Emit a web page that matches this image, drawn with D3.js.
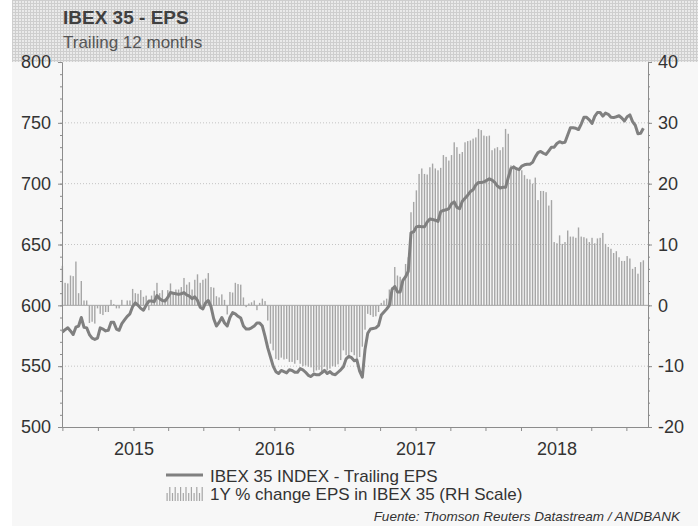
<!DOCTYPE html>
<html>
<head>
<meta charset="utf-8">
<script src="https://cdn.jsdelivr.net/npm/d3@7"></script>
<style>
    body { margin: 0; background: #fff; }
    svg { display: block; font-family: "Liberation Sans", Arial, sans-serif; }
</style>
</head>
<body>
<svg id="chart" width="698" height="526"></svg>
<script>
// weekly observations, first one on 2014-07-01
const firstWeek = new Date(Date.UTC(2014, 6, 1));

// IBEX 35 trailing EPS (left scale)
const epsLevel = [
    578, 580, 581.5, 579, 576, 582, 583, 590, 582, 581.5,
    576, 573, 572, 573, 581.5, 580.5, 579, 579.5, 586, 586,
    580.5, 579.5, 585, 588, 591, 593, 599, 602, 600, 597.5,
    596, 600, 603.5, 603.5, 603, 608, 605.5, 604, 603.5, 606.5,
    610.5, 610, 609.5, 609, 609.5, 610.5, 608.5, 607.5, 605.5, 607,
    604, 598.5, 597, 602, 604, 599, 589, 583, 586, 590,
    585.5, 583, 590, 594, 593, 591, 589.5, 583, 580.5, 580.5,
    581.5, 583, 585.5, 585.5, 583, 574.5, 565, 557.5, 550, 545.5,
    544, 546.5, 545.5, 544.5, 547, 546.5, 545, 545, 548, 547,
    545, 542.5, 541.5, 543.5, 543, 543, 544.5, 546.5, 544, 545.5,
    543.5, 543, 545, 547, 549.5, 556, 558, 557, 554.5, 555,
    546, 541, 564, 577, 580.5, 581, 581.5, 583.5, 592, 594.5,
    597, 600, 613, 615.5, 611, 611, 620.5, 623.5, 628, 659.5,
    660.5, 664.5, 665, 664.5, 664.5, 668.5, 671, 670.5, 670, 669,
    677, 678, 678.5, 679.5, 683.5, 685, 680.5, 679.5, 685.5, 688,
    690.5, 693.5, 695, 699, 701, 701, 701.5, 702.7, 704, 703,
    701, 698, 696.5, 697, 697, 705, 712.5, 713.7, 712.3, 711.5,
    714.5, 715.5, 716, 716, 717.5, 722, 725.5, 726.5, 725, 724,
    727, 730, 730, 733, 734.5, 733.5, 734, 740, 746, 746,
    745.5, 744.5, 749, 754.5, 754.5, 752.5, 749.5, 755.3, 758.5, 758.5,
    755.5, 758, 757, 754.5, 754.3, 755, 755.8, 754, 751.5, 755,
    756.5, 751, 748, 741, 741.5, 745.5
];

// 1Y % change of EPS (right scale)
const epsChange = [
    6.5, 3.7, 3.6, 4.9, 4.8, 7.2, 2.0, 4.0, 0.8, 0.8,
    -2.9, -2.7, -3.0, -0.5, -1.4, -1.6, -1.1, -1.1, 0.9, 0.2,
    -0.5, -0.5, 0.9, 0.0, 0.8, 0.8, 2.7, 2.0, 1.9, 2.5,
    1.4, 1.6, -0.8, 1.6, 2.4, 3.7, 2.0, 2.5, 1.1, 2.5,
    3.6, 2.2, 2.6, 2.6, 3.0, 4.5, 3.4, 3.8, 2.6, 4.2,
    5.1, 3.7, 4.2, 4.4, 5.3, 3.0,
    2.9, 1.5, 1.3, 1.8, 0.9, -1.5, 2.2, 2.1, 3.7, 3.5,
    3.4, 1.3, -0.3, 0.3, 0.5, 0.8, -0.8, 0.4, 1.1, 0.7,
    -2.5, -6.3, -7.4, -8.8, -9.0, -8.6, -8.9, -8.8, -9.3, -9.3,
    -9.6, -9.0, -9.6, -10.0, -9.9, -10.1, -10.2, -11.0, -10.7, -10.6,
    -11.0, -10.1, -10.7, -10.4, -10.0, -10.1, -9.7, -9.0, -7.4, -8.2,
    -8.5, -7.7, -8.2, -9.0, -8.5, -6.8, -4.0, -1.4, -1.6, -1.9,
    -1.8, -1.1, 0.4,
    0.8, 1.1, 2.6, 3.0, 6.3, 4.9, 4.7, 3.8, 6.8, 7.9,
    15.3, 17.0, 18.9, 21.6, 22.5, 21.6, 21.5, 22.7, 23.3, 22.5,
    22.2, 22.6, 24.7, 24.4, 23.8, 24.7, 26.8, 26.0, 24.9, 25.2,
    26.8, 27.0, 27.1, 27.4, 27.6, 29.0, 28.8, 27.9, 27.8, 27.9,
    25.5, 25.8, 26.0, 25.5, 26.0, 29.0, 28.2, 23.0, 23.0, 22.5,
    22.5, 22.2, 21.4, 20.8, 20.7, 20.0, 21.0, 17.3, 18.8, 18.8,
    18.6, 16.4, 17.3, 10.4, 10.2, 11.5, 10.1, 10.4, 12.3, 11.3,
    11.3, 11.1, 12.8, 11.3, 11.2, 11.0, 10.4, 11.1, 10.2, 11.0,
    11.1, 11.9, 10.1, 9.6, 9.3, 8.6, 8.9, 7.9, 7.3, 7.3,
    8.1, 7.7, 6.0, 6.3, 5.2, 7.1, 7.4
];

const leftTicks = [500, 550, 600, 650, 700, 750, 800];
const rightTicks = [-20, -10, 0, 10, 20, 30, 40];
const gridLevels = [550, 650, 700, 750];
const titleText = 'IBEX 35 - EPS';
const subtitleText = 'Trailing 12 months';
const legendLabels = ['IBEX 35 INDEX - Trailing EPS', '1Y % change EPS in IBEX 35 (RH Scale)'];
const sourceText = 'Fuente: Thomson Reuters Datastream / ANDBANK';

const lineColor = '#808080';
const barColor = '#a6a6a6';
const axisColor = '#8c8c8c';
const textColor = '#333';

const svg = d3.select('#chart');
const plot = {left: 62, right: 648, top: 62, bottom: 427};

const dates = epsLevel.map((_, i) => d3.utcDay.offset(firstWeek, 7 * i));
const levelData = epsLevel.map((v, i) => ({date: dates[i], v}));
const changeData = epsChange.map((v, i) => ({date: dates[i], v}));

const x = d3.scaleUtc()
    .domain([new Date(Date.UTC(2014, 5, 30)), new Date(Date.UTC(2018, 7, 26))])
    .range([plot.left, plot.right]);
const yL = d3.scaleLinear().domain([500, 800]).range([plot.bottom, plot.top]);
const yR = d3.scaleLinear().domain([-20, 40]).range([plot.bottom, plot.top]);

// background: white strip, hatched header, light panel
const defs = svg.append('defs');
const pat = defs.append('pattern')
    .attr('id', 'hatch')
    .attr('patternUnits', 'userSpaceOnUse')
    .attr('width', 3).attr('height', 3);
pat.append('rect').attr('width', 3).attr('height', 3).attr('fill', '#eaeaea');
pat.append('rect').attr('width', 3).attr('height', 1).attr('fill', '#cecece');
pat.append('rect').attr('width', 1).attr('height', 3).attr('fill', '#cecece');

svg.append('rect').attr('width', 698).attr('height', 526).attr('fill', '#fff');
svg.append('rect').attr('x', 12).attr('y', 0).attr('width', 686).attr('height', 62)
    .attr('fill', 'url(#hatch)');
svg.append('rect').attr('x', 12).attr('y', 62).attr('width', 686).attr('height', 464)
    .attr('fill', '#f7f7f7');

svg.append('text')
    .attr('x', 63).attr('y', 24)
    .attr('font-size', 19).attr('font-weight', 'bold')
    .attr('fill', '#404040')
    .text(titleText);
svg.append('text')
    .attr('x', 63).attr('y', 48)
    .attr('font-size', 17)
    .attr('fill', '#555')
    .text(subtitleText);

// dotted grid
svg.append('g')
    .selectAll('line')
    .data(gridLevels)
    .enter().append('line')
    .attr('x1', plot.left).attr('x2', plot.right)
    .attr('y1', d => yL(d)).attr('y2', d => yL(d))
    .attr('stroke', '#c4c4c4')
    .attr('stroke-dasharray', '1,2');

// bars
svg.append('g')
    .selectAll('rect')
    .data(changeData)
    .enter().append('rect')
    .attr('x', d => x(d.date) - 0.7)
    .attr('width', 1.4)
    .attr('y', d => Math.min(yR(d.v), yR(0)))
    .attr('height', d => Math.abs(yR(d.v) - yR(0)))
    .attr('fill', barColor);

svg.append('line')
    .attr('x1', plot.left).attr('x2', plot.right)
    .attr('y1', yR(0)).attr('y2', yR(0))
    .attr('stroke', barColor);

// line
const line = d3.line()
    .x(d => x(d.date))
    .y(d => yL(d.v));

svg.append('path')
    .datum(levelData)
    .attr('fill', 'none')
    .attr('stroke', lineColor)
    .attr('stroke-width', 3)
    .attr('stroke-linejoin', 'round')
    .attr('d', line);

// axes
function styleAxis(g) {
    g.select('.domain').attr('stroke', axisColor);
    g.selectAll('.tick line').attr('stroke', axisColor);
    g.selectAll('.tick text')
        .attr('fill', textColor)
        .attr('font-size', 18)
        .attr('font-family', '"Liberation Sans", Arial, sans-serif');
}

svg.append('g')
    .attr('transform', `translate(${plot.left},0)`)
    .call(d3.axisLeft(yL).tickValues(d3.range(500, 801, 10)).tickSize(2).tickSizeOuter(0).tickFormat(''))
    .call(styleAxis);
svg.append('g')
    .attr('transform', `translate(${plot.left},0)`)
    .call(d3.axisLeft(yL).tickValues(leftTicks).tickSize(4).tickSizeOuter(0).tickPadding(7))
    .call(styleAxis);

svg.append('g')
    .attr('transform', `translate(${plot.right},0)`)
    .call(d3.axisRight(yR).tickValues(d3.range(-20, 41, 2)).tickSize(2).tickSizeOuter(0).tickFormat(''))
    .call(styleAxis);
svg.append('g')
    .attr('transform', `translate(${plot.right},0)`)
    .call(d3.axisRight(yR).tickValues(rightTicks).tickSize(4).tickSizeOuter(0).tickPadding(6)
        .tickFormat(d => String(d)))
    .call(styleAxis);

svg.append('g')
    .attr('transform', `translate(0,${plot.bottom})`)
    .call(d3.axisBottom(x)
        .ticks(d3.utcMonth.every(3))
        .tickSize(4)
        .tickSizeOuter(0)
        .tickPadding(11)
        .tickFormat(d => d.getUTCMonth() === 0 ? d3.utcFormat('%Y')(d) : ''))
    .call(styleAxis);

// legend
const legend = svg.append('g');
legend.append('line')
    .attr('x1', 166).attr('x2', 203)
    .attr('y1', 475).attr('y2', 475)
    .attr('stroke', lineColor).attr('stroke-width', 3);
legend.append('g')
    .selectAll('rect')
    .data(d3.range(14))
    .enter().append('rect')
    .attr('x', i => 166.5 + i * 2.7)
    .attr('width', 1.2)
    .attr('y', i => i % 2 ? 487 : 493)
    .attr('height', i => i % 2 ? 14 : 8)
    .attr('fill', barColor);
legend.selectAll('text')
    .data(legendLabels)
    .enter().append('text')
    .attr('x', 210)
    .attr('y', (d, i) => 482 + i * 18)
    .attr('font-size', 17)
    .attr('fill', textColor)
    .text(d => d);

svg.append('text')
    .attr('x', 680).attr('y', 521)
    .attr('text-anchor', 'end')
    .attr('font-size', 13.5)
    .attr('font-style', 'italic')
    .attr('fill', textColor)
    .text(sourceText);
</script>
</body>
</html>
